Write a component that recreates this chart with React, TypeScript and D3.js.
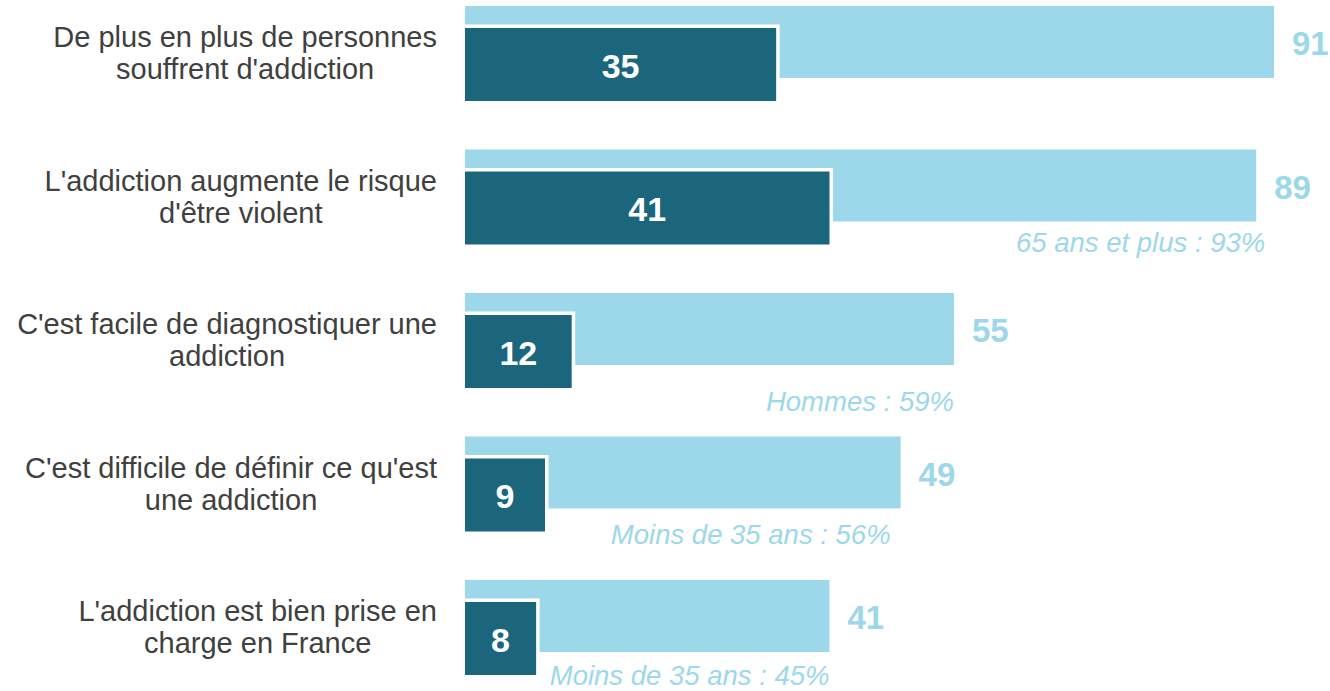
import React, { useEffect, useRef } from "react";
import * as d3 from "d3";

// category labels, one entry per line of text
const categories: string[][] = [
  ["De plus en plus de personnes", "souffrent d'addiction"],
  ["L'addiction augmente le risque", "d'être violent"],
  ["C'est facile de diagnostiquer une", "addiction"],
  ["C'est difficile de définir ce qu'est", "une addiction"],
  ["L'addiction est bien prise en", "charge en France"],
];

// total "d'accord" (light) and "tout à fait d'accord" (dark)
const totalValues = [91, 89, 55, 49, 41];
const strongValues = [35, 41, 12, 9, 8];

const notes = [
  "",
  "65 ans et plus : 93%",
  "Hommes : 59%",
  "Moins de 35 ans : 56%",
  "Moins de 35 ans : 45%",
];

const LIGHT = "#9cd8ea";
const DARK = "#1c667d";
const TEXT = "#404040";
const FONT = "'Liberation Sans', Arial, sans-serif";

export default function App() {
  const width = 1330;
  const height = 691;
  const svgRef = useRef<SVGSVGElement>(null);

  useEffect(() => {
    const svg = d3.select(svgRef.current);
    svg.selectAll("*").remove();

    const barLeft = 465;
    const lightH = 72;
    const darkOffset = 22;
    const darkH = 73;
    const border = 3.5;
    const labelRight = 437;
    // small per-note nudges (dx, dy from bottom of light bar)
    const noteShift = [
      [0, 0],
      [9, 30],
      [0, 46],
      [-10, 35],
      [0, 33],
    ];

    const x = d3.scaleLinear().domain([0, 91]).range([barLeft, 1274]);
    const y = d3
      .scaleBand<number>()
      .domain(d3.range(categories.length))
      .range([6, 6 + categories.length * 143.5]);

    const g = svg.append("g").style("font-family", FONT);

    categories.forEach((lines, i) => {
      const top = y(i)!;
      const total = totalValues[i];
      const strong = strongValues[i];

      // light bar
      g.append("rect")
        .attr("x", barLeft)
        .attr("y", top)
        .attr("width", x(total) - barLeft)
        .attr("height", lightH)
        .attr("fill", LIGHT);

      // white outline behind the dark bar
      g.append("rect")
        .attr("x", barLeft)
        .attr("y", top + darkOffset - border)
        .attr("width", x(strong) - barLeft + border)
        .attr("height", darkH + border)
        .attr("fill", "#fff");

      g.append("rect")
        .attr("x", barLeft)
        .attr("y", top + darkOffset)
        .attr("width", x(strong) - barLeft)
        .attr("height", darkH)
        .attr("fill", DARK);

      g.append("text")
        .attr("x", (barLeft + x(strong)) / 2)
        .attr("y", top + darkOffset + darkH / 2 + 13)
        .attr("text-anchor", "middle")
        .attr("font-weight", "bold")
        .attr("font-size", 34)
        .attr("fill", "#fff")
        .text(strong);

      g.append("text")
        .attr("x", x(total) + 18)
        .attr("y", top + lightH / 2 + 13)
        .attr("font-weight", "bold")
        .attr("font-size", 33)
        .attr("fill", LIGHT)
        .text(total);

      if (notes[i]) {
        g.append("text")
          .attr("x", x(total) + noteShift[i][0])
          .attr("y", top + lightH + noteShift[i][1])
          .attr("text-anchor", "end")
          .attr("font-style", "italic")
          .attr("font-size", 27.5)
          .attr("fill", LIGHT)
          .text(notes[i]);
      }

      // category label: lines centred on each other, block right-aligned
      const mid = top + (darkOffset + darkH) / 2;
      const label = g.append("g");
      const texts = lines.map((line, k) =>
        label
          .append("text")
          .attr("y", mid - 6.5 + k * 32)
          .attr("text-anchor", "middle")
          .attr("font-size", 29)
          .attr("fill", TEXT)
          .text(line)
      );
      const maxW = d3.max(texts, (t) => (t.node() as SVGTextElement).getComputedTextLength()) ?? 0;
      texts.forEach((t) => t.attr("x", labelRight - maxW / 2));
    });
  }, []);

  return (
    <svg
      ref={svgRef}
      width={width}
      height={height}
      style={{ position: "absolute", left: 0, top: 0, background: "#fff" }}
    ></svg>
  );
}
